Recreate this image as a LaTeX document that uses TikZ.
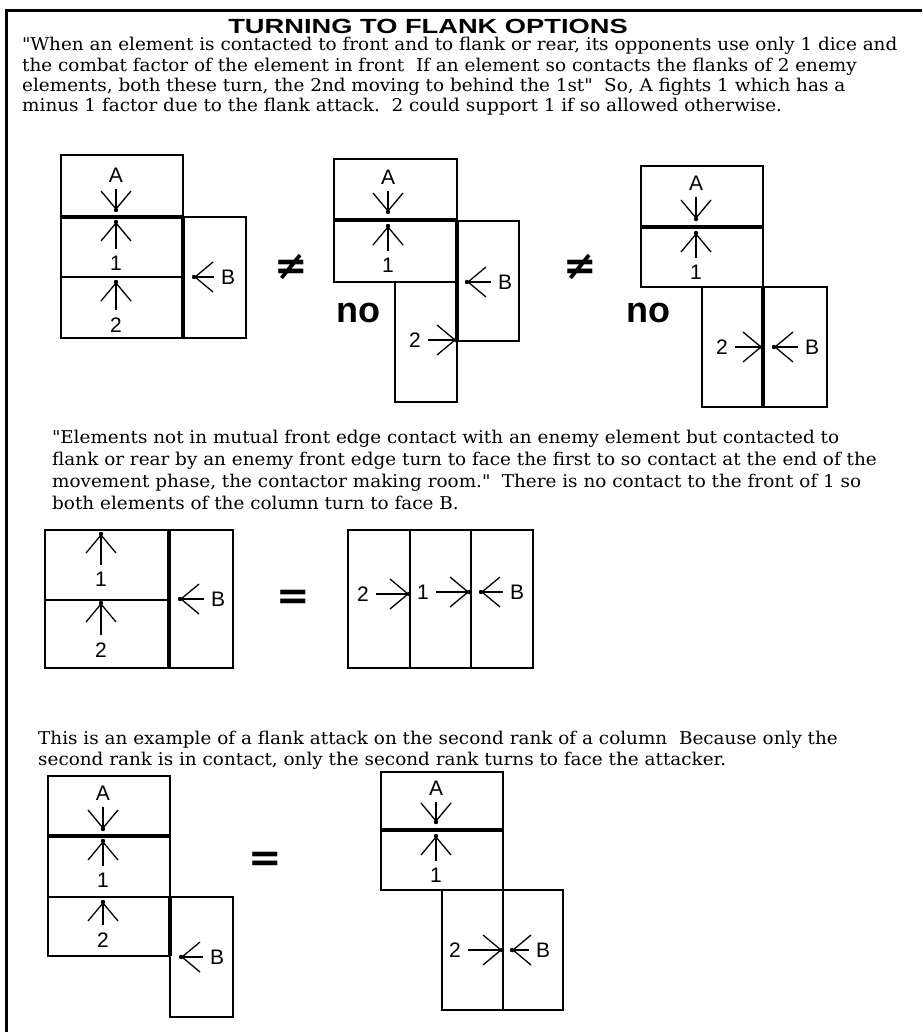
\documentclass[tikz,border=0pt]{standalone}
\usepackage{fontspec}
\setmainfont{DejaVu Serif}[FakeStretch=1.045]
\newfontfamily\labfont{Liberation Sans}
\newfontfamily\headfont[FakeStretch=1.33]{Liberation Sans}
\newfontfamily\symfont{DejaVu Sans}
\usetikzlibrary{arrows.meta}
\tikzset{
  elem/.style={line width=1.5pt},
  front/.style={line width=3.4pt},
  lab/.style={inner sep=1pt, font=\labfont\fontsize{21}{21}\selectfont},
  hit/.style={line width=1.3pt, shorten <=6pt, -{Straight Barb[length=18pt,width=30pt]}},
  txt/.style={anchor=base west, inner sep=0pt, font=\fontsize{17.6}{20}\selectfont},
  sign/.style={font=\symfont\bfseries\fontsize{40}{40}\selectfont},
  nope/.style={font=\labfont\bfseries\fontsize{36}{36}\selectfont}
}
\newcommand{\hitarrow}[2]{\draw[hit] (#1) -- (#2); \fill (#2) circle (2.2pt);}
\begin{document}
\begin{tikzpicture}[x=1pt,y=-1pt]
\useasboundingbox (0,0) rectangle (922,1032);
\draw[line width=3pt] (922,11) -- (6,11) -- (6,1032);
\node[inner sep=0pt] (title) at (428,26) {\headfont\bfseries\fontsize{20.5}{21}\selectfont TURNING TO FLANK OPTIONS};

\node[txt] (p1a) at (22,51) {\textquotedbl When an element is contacted to front and to flank or rear, its opponents use only 1 dice and};
\node[txt] (p1b) at (22,72) {the combat factor of the element in front\ \ If an element so contacts the flanks of 2 enemy};
\node[txt] (p1c) at (22,92) {elements, both these turn, the 2nd moving to behind the 1st\textquotedbl\ \ So, A fights 1 which has a};
\node[txt] (p1d) at (22,112) {minus 1 factor due to the flank attack.\ \ 2 could support 1 if so allowed otherwise.};

% A fights 1, B on the flank
\draw[elem] (61,155) rectangle (183,338);
\draw[elem] (61,277) -- (183,277);
\draw[elem] (183,217) rectangle (246,338);
\draw[front] (61,217) -- (183,217);
\draw[front] (183,217) -- (183,338);
\node[lab] (d1a) at (116,175) {A};
\coordinate (d1at) at (116,210);
\hitarrow{d1a}{d1at}
\node[lab] (d1one) at (116,263) {1};
\coordinate (d1onet) at (116,222);
\hitarrow{d1one}{d1onet}
\node[lab] (d1two) at (116,325) {2};
\coordinate (d1twot) at (116,282);
\hitarrow{d1two}{d1twot}
\node[lab] (d1b) at (228,277) {B};
\coordinate (d1bt) at (194,277);
\hitarrow{d1b}{d1bt}
\node[sign] (ne1) at (291,267) {≠};

\draw[elem] (334,159) rectangle (457,282);
\draw[elem] (395,282) rectangle (457,402);
\draw[elem] (457,221) rectangle (519,341);
\draw[front] (334,220) -- (457,220);
\draw[front] (457,220) -- (457,341);
\node[lab] (d2a) at (388,177) {A};
\coordinate (d2at) at (388,212);
\hitarrow{d2a}{d2at}
\node[lab] (d2one) at (388,265) {1};
\coordinate (d2onet) at (388,226);
\hitarrow{d2one}{d2onet}
\node[lab] (d2b) at (505,282) {B};
\coordinate (d2bt) at (467,282);
\hitarrow{d2b}{d2bt}
\node[lab] (d2two) at (415,340) {2};
\coordinate (d2twot) at (456,340);
\hitarrow{d2two}{d2twot}
\node[nope] (d2no) at (358,313) {no};
\node[sign] (ne2) at (580,267) {≠};

\draw[elem] (641,166) rectangle (763,287);
\draw[elem] (702,287) rectangle (827,407);
\draw[front] (641,227) -- (763,227);
\draw[front] (763,287) -- (763,407);
\node[lab] (d3a) at (696,183) {A};
\coordinate (d3at) at (696,219);
\hitarrow{d3a}{d3at}
\node[lab] (d3one) at (696,272) {1};
\coordinate (d3onet) at (696,233);
\hitarrow{d3one}{d3onet}
\node[lab] (d3two) at (722,347) {2};
\coordinate (d3twot) at (762,347);
\hitarrow{d3two}{d3twot}
\node[lab] (d3b) at (812,347) {B};
\coordinate (d3bt) at (774,347);
\hitarrow{d3b}{d3bt}
\node[nope] (d3no) at (648,313) {no};

\node[txt] (p2a) at (52,443) {\textquotedbl Elements not in mutual front edge contact with an enemy element but contacted to};
\node[txt] (p2b) at (52,465) {flank or rear by an enemy front edge turn to face the first to so contact at the end of the};
\node[txt] (p2c) at (52,487) {movement phase, the contactor making room.\textquotedbl\ \ There is no contact to the front of 1 so};
\node[txt] (p2d) at (52,509) {both elements of the column turn to face B.};

% column turns to face B
\draw[elem] (45,530) rectangle (233,668);
\draw[elem] (45,600) -- (169,600);
\draw[front] (169,530) -- (169,668);
\node[lab] (d4one) at (101,579) {1};
\coordinate (d4onet) at (101,534);
\hitarrow{d4one}{d4onet}
\node[lab] (d4two) at (101,650) {2};
\coordinate (d4twot) at (101,603);
\hitarrow{d4two}{d4twot}
\node[lab] (d4b) at (218,599) {B};
\coordinate (d4bt) at (180,599);
\hitarrow{d4b}{d4bt}
\node[sign] (eq1) at (293,600) {=};

\draw[elem] (348,530) rectangle (533,668);
\draw[elem] (410,530) -- (410,668);
\draw[elem] (471,530) -- (471,668);
\node[lab] (d5two) at (363,594) {2};
\coordinate (d5twot) at (409,594);
\hitarrow{d5two}{d5twot}
\node[lab] (d5one) at (423,592) {1};
\coordinate (d5onet) at (469,592);
\hitarrow{d5one}{d5onet}
\node[lab] (d5b) at (517,592) {B};
\coordinate (d5bt) at (481,592);
\hitarrow{d5b}{d5bt}

\node[txt] (p3a) at (38,744) {This is an example of a flank attack on the second rank of a column\ \ Because only the};
\node[txt] (p3b) at (38,765) {second rank is in contact, only the second rank turns to face the attacker.};

% flank attack on the second rank
\draw[elem] (48,776) rectangle (170,956);
\draw[elem] (48,897) -- (170,897);
\draw[elem] (170,897) rectangle (233,1017);
\draw[front] (48,836) -- (170,836);
\draw[front] (170,897) -- (170,956);
\node[lab] (d6a) at (103,793) {A};
\coordinate (d6at) at (103,829);
\hitarrow{d6a}{d6at}
\node[lab] (d6one) at (103,880) {1};
\coordinate (d6onet) at (103,841);
\hitarrow{d6one}{d6onet}
\node[lab] (d6two) at (103,940) {2};
\coordinate (d6twot) at (103,902);
\hitarrow{d6two}{d6twot}
\node[lab] (d6b) at (217,957) {B};
\coordinate (d6bt) at (181,957);
\hitarrow{d6b}{d6bt}
\node[sign] (eq2) at (265,862) {=};

\draw[elem] (381,772) rectangle (503,890);
\draw[elem] (442,890) rectangle (563,1010);
\draw[elem] (503,890) -- (503,1010);
\draw[front] (381,830) -- (503,830);
\node[lab] (d7a) at (436,788) {A};
\coordinate (d7at) at (436,822);
\hitarrow{d7a}{d7at}
\node[lab] (d7one) at (436,875) {1};
\coordinate (d7onet) at (436,836);
\hitarrow{d7one}{d7onet}
\node[lab] (d7two) at (455,950) {2};
\coordinate (d7twot) at (502,950);
\hitarrow{d7two}{d7twot}
\node[lab] (d7b) at (543,950) {B};
\coordinate (d7bt) at (512,950);
\hitarrow{d7b}{d7bt}
\end{tikzpicture}
\end{document}
